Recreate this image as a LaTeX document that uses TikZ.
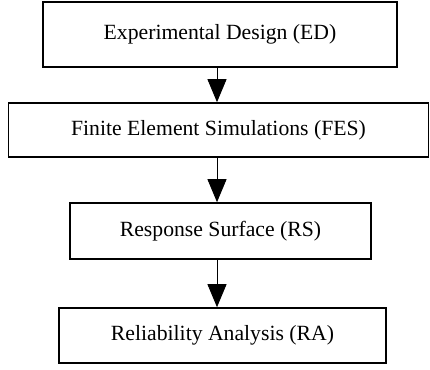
\documentclass[tikz,border=0pt]{standalone}
\usepackage{fontspec}
\setmainfont{Liberation Serif}
\usetikzlibrary{arrows.meta}
\tikzset{
    stagebox/.style={draw, line width=1.6pt, inner sep=0pt, font=\fontsize{21.7}{25}\selectfont},
    flowarrow/.style={line width=0.9pt, -{Triangle[width=19pt,length=23pt]}}
}
\begin{document}
\begin{tikzpicture}[x=1pt,y=1pt]
    \useasboundingbox (0,0) rectangle (430,369);

    \node[stagebox, minimum width=354pt, minimum height=65pt] (ed) at (220,334.5) {Experimental Design (ED)};
    \node[stagebox, minimum width=420pt, minimum height=54pt] (fes) at (218.5,239) {Finite Element Simulations (FES)};
    \node[stagebox, minimum width=301pt, minimum height=56pt] (rs) at (220.5,138) {Response Surface (RS)};
    \node[stagebox, minimum width=327pt, minimum height=55pt] (ra) at (222.5,33.5) {Reliability Analysis (RA)};

    \coordinate (axis) at (217,0);

    \draw[flowarrow] (ed.south -| axis) -- (fes.north -| axis);
    \draw[flowarrow] (fes.south -| axis) -- (rs.north -| axis);
    \draw[flowarrow] (rs.south -| axis) -- (ra.north -| axis);
\end{tikzpicture}
\end{document}
